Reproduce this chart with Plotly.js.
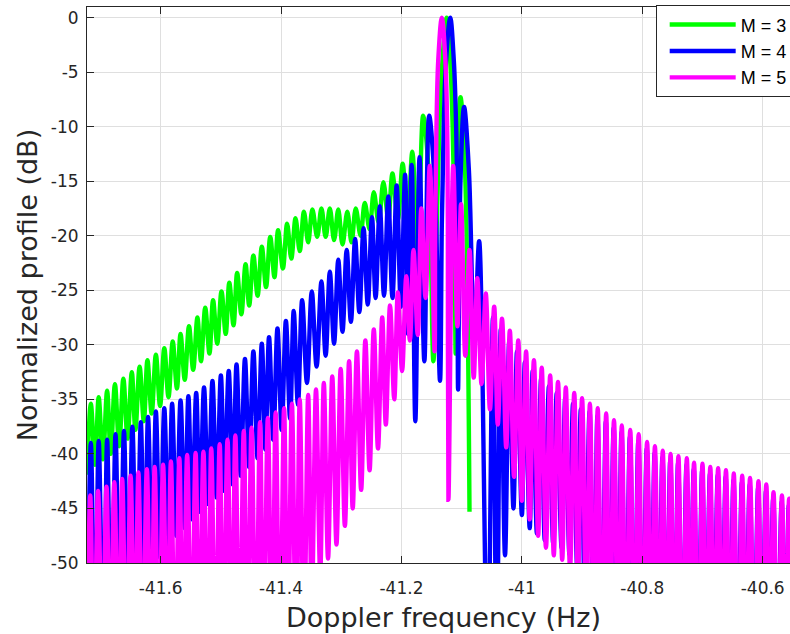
<!DOCTYPE html>
<html>
<head>
<meta charset="utf-8">
<script src="https://cdn.plot.ly/plotly-3.0.1.min.js"></script>
<style>
html,body{margin:0;padding:0;overflow:hidden;background:#fff;}
#chart{width:800px;height:634px;}
</style>
</head>
<body>
<div id="chart"></div>
<script>
// ---- data ----
const seriesNames = ['M = 3', 'M = 4', 'M = 5'];
const seriesColors = ['#00ff00', '#0000ff', '#ff00ff'];

const xTickVals = [-41.6, -41.4, -41.2, -41, -40.8, -40.6];
const xTickText = ['-41.6', '-41.4', '-41.2', '-41', '-40.8', '-40.6'];
const yTickVals = [0, -5, -10, -15, -20, -25, -30, -35, -40, -45, -50];
const yTickText = ['0', '-5', '-10', '-15', '-20', '-25', '-30', '-35', '-40', '-45', '-50'];

// M = 3 (green)
const m3Freq = [-41.722,-41.716,-41.709,-41.703,-41.696,-41.689,-41.683,-41.676,-41.669,-41.662,
-41.655,-41.648,-41.642,-41.635,-41.628,-41.622,-41.615,-41.608,-41.601,-41.594,
-41.587,-41.580,-41.573,-41.567,-41.560,-41.553,-41.546,-41.539,-41.533,-41.526,
-41.519,-41.513,-41.506,-41.499,-41.492,-41.486,-41.479,-41.473,-41.466,-41.459,
-41.453,-41.446,-41.439,-41.432,-41.425,-41.418,-41.411,-41.405,-41.397,-41.390,
-41.383,-41.376,-41.369,-41.362,-41.355,-41.348,-41.340,-41.333,-41.326,-41.319,
-41.312,-41.305,-41.298,-41.290,-41.283,-41.276,-41.268,-41.261,-41.253,-41.246,
-41.238,-41.230,-41.222,-41.215,-41.206,-41.198,-41.190,-41.182,-41.173,-41.164,
-41.155,-41.147,-41.141,-41.137,-41.132,-41.125,-41.119,-41.115,-41.112,-41.110,
-41.107,-41.102,-41.095,-41.087];
const m3Db = [-41.9,-35.4,-41.0,-34.8,-40.5,-34.2,-40.0,-33.6,-39.3,-33.1,
-38.6,-32.5,-37.8,-32.0,-37.0,-31.4,-36.3,-30.9,-35.6,-30.3,
-34.8,-29.7,-34.0,-29.0,-33.2,-28.3,-32.3,-27.5,-31.5,-26.6,
-30.8,-25.9,-29.9,-25.1,-29.0,-24.3,-28.2,-23.4,-27.2,-22.6,
-26.4,-21.8,-25.5,-21.0,-24.7,-20.1,-23.8,-19.5,-23.0,-18.9,
-22.1,-18.4,-21.4,-17.8,-20.6,-17.6,-20.1,-17.5,-20.1,-17.5,
-20.4,-17.6,-20.8,-17.8,-20.6,-17.5,-20.0,-17.0,-19.4,-16.0,
-18.8,-15.1,-18.5,-14.3,-18.5,-13.4,-19.0,-12.3,-22.0,-9.0,
-14.0,-31.5,-18.0,-10.0,-4.0,0,-4.0,-10.0,-18.0,-30.8,
-14.0,-7.3,-13.0,-45.3];

// M = 4 (blue)
const m4Freq = [-41.722,-41.716,-41.709,-41.703,-41.695,-41.689,-41.682,-41.675,-41.668,-41.661,
-41.654,-41.647,-41.640,-41.633,-41.627,-41.621,-41.614,-41.608,-41.601,-41.594,
-41.587,-41.581,-41.574,-41.567,-41.560,-41.554,-41.548,-41.541,-41.535,-41.528,
-41.521,-41.514,-41.507,-41.500,-41.494,-41.487,-41.480,-41.474,-41.467,-41.460,
-41.453,-41.446,-41.439,-41.432,-41.426,-41.420,-41.413,-41.406,-41.399,-41.392,
-41.385,-41.379,-41.372,-41.365,-41.357,-41.349,-41.341,-41.333,-41.326,-41.319,
-41.312,-41.305,-41.298,-41.291,-41.284,-41.277,-41.270,-41.263,-41.256,-41.249,
-41.243,-41.236,-41.229,-41.222,-41.215,-41.208,-41.201,-41.194,-41.189,-41.183,
-41.177,-41.170,-41.162,-41.154,-41.145,-41.136,-41.133,-41.130,-41.126,-41.119,
-41.113,-41.109,-41.107,-41.106,-41.102,-41.096,-41.088,-41.079,-41.071,-41.057,
-41.048,-41.042,-41.035,-41.028,-41.021,-41.014,-41.008,-41.000,-40.995,-40.987,
-40.982,-40.975,-40.968,-40.962,-40.955,-40.948,-40.942,-40.934,-40.928,-40.921,
-40.915,-40.908,-40.902,-40.895,-40.8875,-40.8805,-40.8745,-40.8675,-40.8605,-40.8545,
-40.8475,-40.8405,-40.8345,-40.8275,-40.8205,-40.8135,-40.8065,-40.7995,-40.7925,-40.7855,
-40.7795,-40.7725,-40.7665,-40.7595,-40.7535,-40.7465,-40.7405,-40.7335,-40.7265,-40.7205,
-40.7145,-40.7075,-40.7005,-40.6945,-40.6875,-40.6815,-40.6745,-40.6675,-40.6615,-40.6545,
-40.6485,-40.6415,-40.6345,-40.6285,-40.6215,-40.6145,-40.6075,-40.6015,-40.5945,-40.5885,
-40.5825,-40.5755,-40.5685,-40.5625,-40.5565,-40.5495,-40.5425,-40.5365];
const m4Db = [-60,-39.0,-60,-38.8,-60,-38.7,-60,-38.2,-58,-37.9,
-56,-37.5,-54,-37.1,-52.5,-36.6,-51,-36.1,-49.5,-35.8,
-48.5,-35.4,-47.5,-35.1,-46.8,-34.7,-46.0,-34.4,-45.3,-33.9,
-44.6,-33.3,-44.0,-32.8,-43.4,-32.4,-42.8,-31.8,-42.0,-31.3,
-41.2,-30.6,-40.4,-29.9,-39.6,-29.3,-38.7,-28.5,-37.8,-27.8,
-36.8,-26.9,-35.5,-25.9,-33.5,-25.1,-32.0,-24.2,-31.0,-23.3,
-29.9,-22.2,-28.8,-21.3,-27.9,-20.3,-27.0,-19.3,-26.3,-18.3,
-25.7,-17.3,-25.5,-16.4,-25.7,-15.4,-26.5,-14.4,-29.0,-13.5,
-37.0,-12.8,-31.5,-9.0,-15.0,-33.3,-19.0,-10.5,-4.0,0,
-4.0,-10.5,-19.0,-34.1,-15.0,-8.2,-14.0,-30.0,-20.5,-60,
-27.5,-60,-28.6,-49.3,-29.7,-45.0,-30.6,-45.6,-31.6,-46.8,
-32.4,-47.3,-33.1,-47.9,-33.8,-48.2,-34.4,-48.6,-34.9,-49.2,
-35.4,-50.5,-35.9,-54,-36.1,-60,-36.5,-60,-37.0,-60,
-37.6,-60,-38.0,-60,-38.4,-60,-38.8,-60,-39.5,-60,
-39.9,-60,-40.3,-60,-40.6,-60,-40.8,-60,-41.0,-60,
-41.4,-60,-41.5,-60,-41.8,-60,-41.9,-60,-42.1,-60,
-42.4,-60,-42.6,-60,-42.8,-60,-43.1,-60,-43.4,-60,
-44.1,-60,-44.4,-60,-44.7,-60,-45.0,-60];

// M = 5 (magenta)
const m5Freq = [-41.722,-41.717,-41.711,-41.704,-41.697,-41.690,-41.684,-41.677,-41.670,-41.664,
-41.657,-41.650,-41.643,-41.637,-41.630,-41.623,-41.616,-41.610,-41.603,-41.596,
-41.589,-41.583,-41.576,-41.569,-41.563,-41.556,-41.549,-41.542,-41.536,-41.529,
-41.522,-41.516,-41.509,-41.502,-41.496,-41.489,-41.482,-41.476,-41.469,-41.462,
-41.456,-41.449,-41.442,-41.435,-41.429,-41.422,-41.415,-41.409,-41.402,-41.395,
-41.389,-41.382,-41.375,-41.369,-41.362,-41.355,-41.349,-41.342,-41.335,-41.329,
-41.322,-41.315,-41.308,-41.301,-41.294,-41.287,-41.281,-41.274,-41.267,-41.260,
-41.253,-41.246,-41.239,-41.232,-41.226,-41.219,-41.212,-41.206,-41.199,-41.192,
-41.186,-41.180,-41.173,-41.167,-41.160,-41.153,-41.145,-41.144,-41.142,-41.139,
-41.133,-41.127,-41.124,-41.123,-41.122,-41.114,-41.107,-41.101,-41.094,-41.087,
-41.080,-41.074,-41.067,-41.060,-41.053,-41.046,-41.040,-41.033,-41.026,-41.020,
-41.013,-41.006,-41.000,-40.993,-40.987,-40.980,-40.973,-40.967,-40.960,-40.953,
-40.947,-40.940,-40.933,-40.927,-40.920,-40.913,-40.907,-40.900,-40.893,-40.887,
-40.880,-40.874,-40.867,-40.860,-40.854,-40.847,-40.840,-40.834,-40.827,-40.820,
-40.813,-40.806,-40.799,-40.792,-40.785,-40.779,-40.772,-40.766,-40.759,-40.753,
-40.746,-40.740,-40.733,-40.726,-40.720,-40.714,-40.707,-40.700,-40.694,-40.687,
-40.681,-40.674,-40.667,-40.661,-40.654,-40.648,-40.641,-40.634,-40.628,-40.621,
-40.614,-40.607,-40.601,-40.594,-40.588,-40.582,-40.575,-40.568,-40.562,-40.556,
-40.549,-40.542,-40.536];
const m5Db = [-60,-43.8,-60,-43.4,-60,-43.0,-60,-42.6,-60,-42.3,
-60,-42.0,-60,-41.7,-60,-41.4,-60,-41.2,-60,-41.0,
-60,-40.7,-60,-40.4,-60,-40.1,-60,-39.9,-60,-39.8,
-60,-39.5,-60,-39.1,-60,-38.7,-60,-38.3,-60,-37.9,
-60,-37.6,-60,-37.1,-60,-36.7,-60,-36.2,-60,-35.8,
-60,-35.4,-60,-35.0,-58,-34.6,-54,-34.1,-51,-33.5,
-49.6,-32.9,-48.3,-32.2,-46.6,-31.5,-45.0,-30.6,-43.3,-29.6,
-41.5,-28.6,-39.5,-27.5,-37.3,-26.4,-35.0,-25.2,-32.4,-23.7,
-29.6,-21.3,-29.1,-17.5,-25.7,-13.6,-30.6,-19,-10.5,-4,
0,-4,-10.5,-19,-44.2,-13.6,-28.3,-17.1,-31.0,-21.3,
-33.0,-23.9,-33.6,-25.3,-35.9,-26.5,-37.3,-27.6,-39.4,-28.7,
-42.1,-29.6,-44.3,-30.6,-46.0,-31.4,-47.5,-32.1,-48.6,-32.8,
-49.3,-33.4,-49.7,-33.9,-50.5,-34.4,-52,-34.9,-56,-35.4,
-60,-35.8,-60,-36.3,-60,-36.9,-60,-37.4,-60,-37.8,
-60,-38.2,-60,-38.9,-60,-39.3,-60,-39.7,-60,-40.0,
-60,-40.2,-60,-40.4,-60,-40.8,-60,-40.9,-60,-41.2,
-60,-41.3,-60,-41.5,-60,-41.8,-60,-42.0,-60,-42.2,
-60,-42.5,-60,-42.8,-60,-43.5,-60,-43.8,-60,-44.1,
-60,-44.4,-60];

// ---- chart ----
const xs = [m3Freq, m4Freq, m5Freq];
const ys = [m3Db, m4Db, m5Db];
const traces = seriesNames.map((name, i) => ({
  type: 'scatter',
  mode: 'lines',
  name: name,
  x: xs[i],
  y: ys[i],
  line: {color: seriesColors[i], width: 4.4, shape: 'spline', smoothing: 1, simplify: false},
  hoverinfo: 'skip'
}));

const axisCommon = {
  ticks: 'inside',
  ticklen: 7,
  tickwidth: 1,
  tickcolor: '#262626',
  showline: true,
  linecolor: '#262626',
  linewidth: 1,
  mirror: 'ticks',
  showgrid: true,
  gridcolor: '#dfdfdf',
  gridwidth: 1,
  zeroline: false,
  automargin: false,
  tickfont: {family: 'DejaVu Sans, sans-serif', size: 17, color: '#262626'}
};

const layout = {
  width: 800,
  height: 634,
  margin: {l: 87, r: 0, t: 7, b: 71, autoexpand: false},
  paper_bgcolor: '#ffffff',
  plot_bgcolor: '#ffffff',
  font: {family: 'DejaVu Sans, sans-serif', color: '#262626'},
  showlegend: true,
  legend: {
    x: 0.7976, y: 1.003, xanchor: 'left', yanchor: 'top',
    bgcolor: '#ffffff', bordercolor: '#262626', borderwidth: 1,
    font: {family: 'Liberation Sans, Arial, sans-serif', size: 18, color: '#000000'},
    itemwidth: 66,
    indentation: 8,
    traceorder: 'normal'
  },
  xaxis: Object.assign({}, axisCommon, {
    range: [-41.7224, -40.538],
    tickmode: 'array',
    tickvals: xTickVals,
    ticktext: xTickText,
    ticklabelstandoff: 10,
    title: {text: 'Doppler frequency (Hz)', font: {family: 'DejaVu Sans, sans-serif', size: 27, color: '#262626'}, standoff: 10}
  }),
  yaxis: Object.assign({}, axisCommon, {
    range: [-50, 0.97],
    tickmode: 'array',
    tickvals: yTickVals,
    ticktext: yTickText,
    ticklabelstandoff: 4,
    title: {text: 'Normalized profile (dB)', font: {family: 'DejaVu Sans, sans-serif', size: 27, color: '#262626'}, standoff: 5}
  })
};

Plotly.newPlot('chart', traces, layout, {staticPlot: true, displayModeBar: false});
</script>
</body>
</html>
